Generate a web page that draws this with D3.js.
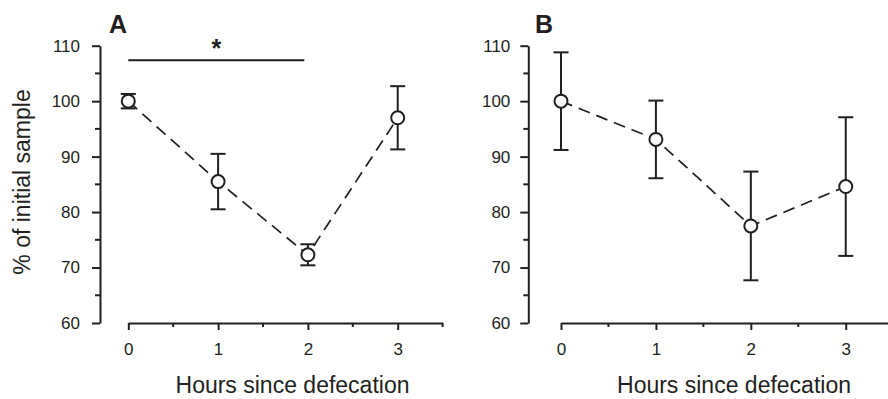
<!DOCTYPE html>
<html>
<head>
<meta charset="utf-8">
<script src="https://cdn.jsdelivr.net/npm/d3@7"></script>
<style>
  html, body { margin: 0; padding: 0; background: #fff; }
  svg { display: block; font-family: "Liberation Sans", Arial, sans-serif; }
</style>
</head>
<body>
<svg id="chart" width="888" height="399"></svg>
<script>
// ---- data ----
const hours = [0, 1, 2, 3];
const meanA = [100, 85.5, 72.3, 97.0];
const errA  = [1.3, 5.0, 1.9, 5.7];
const meanB = [100, 93.1, 77.5, 84.6];
const errB  = [8.8, 7.0, 9.8, 12.5];
const yTicks = [60, 70, 80, 90, 100, 110];
const yMinor = [65, 75, 85, 95, 105];
const xTicks = [0, 1, 2, 3];
const xMinor = [0.5, 1.5, 2.5, 3.5];
const sigBar = [0, 1.96];   // significance bar extent (panel A)

const ink = "#231f20";
const svg = d3.select("#chart");

function panel(opts) {
  const { mean, err, label, yAxisX, yPad, xRange, labelX, titleX } = opts;
  const x = d3.scaleLinear().domain([0, 3.5]).range(xRange);
  const y = d3.scaleLinear().domain([60, 110]).range([323, 45.7]);
  const g = svg.append("g");

  // y axis
  const ya = g.append("g").attr("transform", `translate(${yAxisX},0)`)
    .call(d3.axisLeft(y).tickValues(yTicks).tickSize(8).tickPadding(yPad).tickSizeOuter(0));
  ya.select(".domain").attr("stroke", ink).attr("stroke-width", 2);
  ya.selectAll(".tick line").attr("stroke", ink).attr("stroke-width", 2);
  ya.selectAll(".tick text").attr("fill", ink).attr("font-size", 17)
    .attr("font-family", "Liberation Sans, Arial, sans-serif");
  g.append("g").selectAll("line").data(yMinor).join("line")
    .attr("x1", yAxisX - 5).attr("x2", yAxisX)
    .attr("y1", d => y(d)).attr("y2", d => y(d))
    .attr("stroke", ink).attr("stroke-width", 2);

  // x axis
  const xa = g.append("g").attr("transform", `translate(0,323)`)
    .call(d3.axisBottom(x).tickValues(xTicks).tickFormat(d3.format("d")).tickSize(7).tickPadding(13).tickSizeOuter(0));
  xa.select(".domain").attr("stroke", ink).attr("stroke-width", 2);
  xa.selectAll(".tick line").attr("stroke", ink).attr("stroke-width", 2);
  xa.selectAll(".tick text").attr("fill", ink).attr("font-size", 17)
    .attr("font-family", "Liberation Sans, Arial, sans-serif");
  g.append("g").selectAll("line").data(xMinor).join("line")
    .attr("x1", d => x(d)).attr("x2", d => x(d))
    .attr("y1", 323).attr("y2", 327)
    .attr("stroke", ink).attr("stroke-width", 2);

  // x label
  g.append("text").attr("x", labelX).attr("y", 393)
    .attr("text-anchor", "middle").attr("font-size", 23).attr("fill", ink)
    .text("Hours since defecation");

  // panel letter
  g.append("text").attr("x", titleX).attr("y", 33)
    .attr("font-size", 25).attr("font-weight", "bold").attr("fill", ink)
    .text(label);

  // dashed line
  const pts = hours.map((h, i) => [x(h), y(mean[i])]);
  g.append("path").attr("d", d3.line()(pts))
    .attr("fill", "none").attr("stroke", ink).attr("stroke-width", 1.7)
    .attr("stroke-dasharray", "12,7");

  // error bars
  const eb = g.append("g").attr("stroke", ink).attr("stroke-width", 2);
  hours.forEach((h, i) => {
    const cx = x(h), top = y(mean[i] + err[i]), bot = y(mean[i] - err[i]);
    eb.append("line").attr("x1", cx).attr("x2", cx).attr("y1", top).attr("y2", bot);
    eb.append("line").attr("x1", cx - 7.5).attr("x2", cx + 7.5).attr("y1", top).attr("y2", top);
    eb.append("line").attr("x1", cx - 7.5).attr("x2", cx + 7.5).attr("y1", bot).attr("y2", bot);
  });

  // points
  g.append("g").selectAll("circle").data(hours).join("circle")
    .attr("cx", d => x(d)).attr("cy", (d, i) => y(mean[i])).attr("r", 6.5)
    .attr("fill", "#fff").attr("stroke", ink).attr("stroke-width", 2);

  return { g, x, y };
}

const A = panel({ mean: meanA, err: errA, label: "A", yAxisX: 100, yPad: 12,
  xRange: [128.3, 442.6], labelX: 292.5, titleX: 109 });
const B = panel({ mean: meanB, err: errB, label: "B", yAxisX: 528.3, yPad: 10,
  xRange: [561, 893.2], labelX: 734, titleX: 535 });

// significance bar in panel A
A.g.append("line")
  .attr("x1", A.x(sigBar[0])).attr("x2", A.x(sigBar[1]))
  .attr("y1", 60.3).attr("y2", 60.3)
  .attr("stroke", ink).attr("stroke-width", 2);
A.g.append("text").attr("x", (A.x(sigBar[0]) + A.x(sigBar[1])) / 2).attr("y", 57)
  .attr("text-anchor", "middle").attr("font-size", 25).attr("font-weight", "bold")
  .attr("fill", ink).text("*");

// y axis label
svg.append("text")
  .attr("transform", "translate(30,182) rotate(-90)")
  .attr("text-anchor", "middle").attr("font-size", 23).attr("fill", ink)
  .text("% of initial sample");
</script>
</body>
</html>
